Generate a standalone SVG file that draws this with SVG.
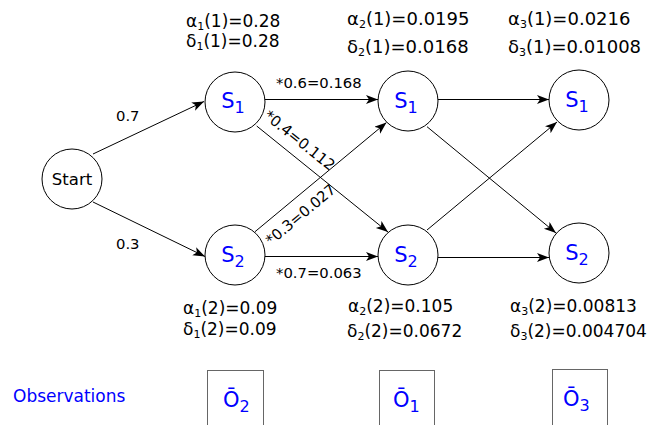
<svg xmlns="http://www.w3.org/2000/svg" width="662" height="425" viewBox="0 0 662 425">
  <style>
    text { font-family: "DejaVu Sans", Verdana, sans-serif; fill: #000; }
    .node { fill: #fff; stroke: #000; stroke-width: 1; }
    .state { font-size: 21px; fill: #0000ff; text-anchor: middle; }
    .obs { font-size: 21px; fill: #0000ff; }
    .blue { fill: #0000ff; }
    .sub { font-size: 16px; }
    .prob { font-size: 17px; }
    .probL { font-size: 18px; }
    .s { font-size: 11px; }
    .edge { stroke: #000; stroke-width: 1; fill: none; marker-end: url(#arrow); }
    .elabel { font-size: 14.8px; }
    .box { fill: #fff; stroke: #666; stroke-width: 1; }
  </style>
  <defs>
    <marker id="arrow" markerUnits="userSpaceOnUse" markerWidth="13" markerHeight="10" refX="12" refY="4.5" orient="auto">
      <path d="M0,0 L12,4.5 L0,9 L3,4.5 z" fill="#000"/>
    </marker>
  </defs>

  <rect width="662" height="425" fill="#fff"/>

  <!-- connectors -->
  <g id="connectors">
    <line class="edge" x1="93" y1="154" x2="204" y2="101.5"/>
    <line class="edge" x1="93" y1="202" x2="205" y2="256.5"/>
    <line class="edge" x1="265" y1="99.5" x2="378" y2="99.5"/>
    <line class="edge" x1="256.7" y1="126" x2="388" y2="232"/>
    <line class="edge" x1="255" y1="231.7" x2="386.5" y2="122.5"/>
    <line class="edge" x1="265" y1="256.5" x2="378" y2="256.5"/>
    <line class="edge" x1="438" y1="99.5" x2="549" y2="99.5"/>
    <line class="edge" x1="427" y1="126.7" x2="556" y2="233"/>
    <line class="edge" x1="427" y1="230" x2="557" y2="122"/>
    <line class="edge" x1="438" y1="257.5" x2="549" y2="257.5"/>

    <text class="elabel" x="116" y="121">0.7</text>
    <text class="elabel" x="116" y="249">0.3</text>
    <text class="elabel" x="276" y="88">*0.6=0.168</text>
    <text class="elabel" x="276" y="278">*0.7=0.063</text>
    <text class="elabel" transform="translate(263,117.5) rotate(38.8)">*0.4=0.112</text>
    <text class="elabel" transform="translate(271,246) rotate(-39.8)">*0.3=0.027</text>
  </g>

  <!-- start node -->
  <g id="start">
    <circle class="node" cx="72" cy="179" r="30"/>
    <text x="72" y="185" font-size="16.5" text-anchor="middle">Start</text>
  </g>

  <!-- time step 1 -->
  <g id="s1-t1">
    <circle class="node" cx="235" cy="102" r="30"/>
    <text class="state" x="233" y="107.5">S<tspan class="sub" dy="5">1</tspan></text>
  </g>
  <g id="s2-t1">
    <circle class="node" cx="235" cy="255" r="30"/>
    <text class="state" x="233" y="261.5">S<tspan class="sub" dy="5">2</tspan></text>
  </g>

  <!-- time step 2 -->
  <g id="s1-t2">
    <circle class="node" cx="408" cy="101" r="30"/>
    <text class="state" x="406" y="107.5">S<tspan class="sub" dy="5">1</tspan></text>
  </g>
  <g id="s2-t2">
    <circle class="node" cx="408" cy="255" r="30"/>
    <text class="state" x="406" y="261.5">S<tspan class="sub" dy="5">2</tspan></text>
  </g>

  <!-- time step 3 -->
  <g id="s1-t3">
    <circle class="node" cx="579" cy="100" r="30"/>
    <text class="state" x="577" y="106.5">S<tspan class="sub" dy="5">1</tspan></text>
  </g>
  <g id="s2-t3">
    <circle class="node" cx="579" cy="253" r="30"/>
    <text class="state" x="577" y="259.5">S<tspan class="sub" dy="5">2</tspan></text>
  </g>

  <!-- forward / viterbi values -->
  <g id="values-t1">
    <text class="prob" x="186" y="26.5">α<tspan class="s" dy="3">1</tspan><tspan dy="-3">(1)=0.28</tspan></text>
    <text class="prob" x="186" y="46.5">δ<tspan class="s" dy="3">1</tspan><tspan dy="-3">(1)=0.28</tspan></text>
    <text class="prob" x="183" y="314">α<tspan class="s" dy="3">1</tspan><tspan dy="-3">(2)=0.09</tspan></text>
    <text class="prob" x="183" y="334.5">δ<tspan class="s" dy="3">1</tspan><tspan dy="-3">(2)=0.09</tspan></text>
  </g>
  <g id="values-t2">
    <text class="probL" x="347" y="25">α<tspan class="s" dy="3">2</tspan><tspan dy="-3">(1)=0.0195</tspan></text>
    <text class="probL" x="347" y="52.5">δ<tspan class="s" dy="3">2</tspan><tspan dy="-3">(1)=0.0168</tspan></text>
    <text class="prob" x="348" y="312">α<tspan class="s" dy="3">2</tspan><tspan dy="-3">(2)=0.105</tspan></text>
    <text class="prob" x="347" y="337">δ<tspan class="s" dy="3">2</tspan><tspan dy="-3">(2)=0.0672</tspan></text>
  </g>
  <g id="values-t3">
    <text class="probL" x="508" y="25">α<tspan class="s" dy="3">3</tspan><tspan dy="-3">(1)=0.0216</tspan></text>
    <text class="probL" x="508" y="52.5">δ<tspan class="s" dy="3">3</tspan><tspan dy="-3">(1)=0.01008</tspan></text>
    <text class="prob" x="510" y="312">α<tspan class="s" dy="3">3</tspan><tspan dy="-3">(2)=0.00813</tspan></text>
    <text class="prob" x="510" y="337">δ<tspan class="s" dy="3">3</tspan><tspan dy="-3">(2)=0.004704</tspan></text>
  </g>

  <!-- observation sequence -->
  <g id="observations">
    <text class="blue" x="13" y="402" font-size="17">Observations</text>
  </g>
  <g id="obs-1">
    <rect class="box" x="207.5" y="370.5" width="56" height="70"/>
    <text class="obs" x="223" y="406.5">Ō<tspan class="sub" dy="5">2</tspan></text>
  </g>
  <g id="obs-2">
    <rect class="box" x="379.5" y="370.5" width="55" height="70"/>
    <text class="obs" x="393" y="406.5">Ō<tspan class="sub" dy="5">1</tspan></text>
  </g>
  <g id="obs-3">
    <rect class="box" x="552.5" y="369.5" width="55" height="70"/>
    <text class="obs" x="563" y="405.5">Ō<tspan class="sub" dy="5">3</tspan></text>
  </g>
</svg>
